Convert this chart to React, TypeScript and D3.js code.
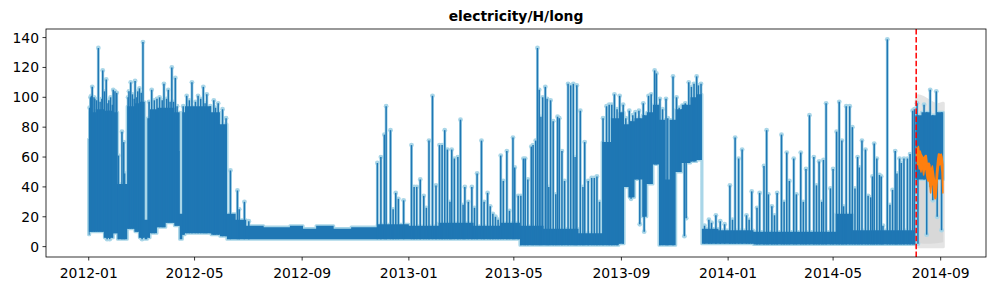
import React from "react";
import * as d3 from "d3";

// ---------------- data ----------------
const title = "electricity/H/long";
const seriesStart = "2012-01-01";
const seriesEnd = "2014-09-03T23:00";
const forecastStart = "2014-08-04";

// dense hourly band: [date (step start), low, high]
const envelope: [string, number, number][] = [
  ["2012-01-01", 8, 72], ["2012-01-02", 10, 90], ["2012-01-09", 10, 92], ["2012-01-19", 6, 91],
  ["2012-01-29", 9, 90], ["2012-02-03", 5, 42], ["2012-02-14", 12, 94], ["2012-02-23", 10, 96],
  ["2012-02-28", 6, 97], ["2012-03-05", 5, 18], ["2012-03-08", 6, 86], ["2012-03-11", 9, 92],
  ["2012-03-19", 13, 93], ["2012-03-29", 16, 93], ["2012-04-08", 14, 90], ["2012-04-14", 5, 22],
  ["2012-04-17", 8, 90], ["2012-04-20", 9, 94], ["2012-05-20", 8, 90], ["2012-05-30", 7, 82],
  ["2012-06-07", 5, 22], ["2012-06-17", 5, 18], ["2012-06-29", 5, 14], ["2012-07-19", 5, 13],
  ["2012-08-18", 5, 14], ["2012-09-02", 5, 12], ["2012-09-17", 5, 14], ["2012-10-07", 5, 12],
  ["2012-10-27", 5, 13], ["2012-11-26", 5, 15], ["2013-01-01", 5, 14], ["2013-02-04", 5, 16],
  ["2013-03-16", 5, 14], ["2013-04-15", 5, 16], ["2013-05-08", 1, 14], ["2013-06-04", 1, 12],
  ["2013-07-14", 1, 9], ["2013-08-10", 1, 70], ["2013-08-20", 1, 86], ["2013-08-29", 2, 90],
  ["2013-09-04", 40, 82], ["2013-09-10", 33, 84], ["2013-09-16", 45, 86], ["2013-09-25", 20, 88],
  ["2013-09-30", 42, 90], ["2013-10-07", 55, 95], ["2013-10-14", 1, 85], ["2013-10-21", 1, 45],
  ["2013-10-26", 1, 85], ["2013-11-02", 50, 92], ["2013-11-09", 56, 95], ["2013-11-19", 57, 100],
  ["2013-11-26", 58, 102], ["2013-12-02", 2, 12], ["2013-12-21", 2, 11], ["2014-01-30", 1.5, 10],
  ["2014-05-04", 1.5, 22], ["2014-05-24", 1.5, 11], ["2014-08-03", 45, 88], ["2014-08-10", 45, 90],
  ["2014-08-20", 40, 88], ["2014-08-28", 45, 90], ["2014-09-03T23:00", 45, 90],
];

// individual daily peaks: [date, value]
const peaks: [string, number][] = [
  ["2012-01-02", 93], ["2012-01-03", 100], ["2012-01-04", 101], ["2012-01-05", 107], ["2012-01-07", 100],
  ["2012-01-08", 99], ["2012-01-10", 98], ["2012-01-12", 133], ["2012-01-14", 97], ["2012-01-16", 99],
  ["2012-01-17", 118], ["2012-01-19", 104], ["2012-01-21", 112], ["2012-01-23", 96], ["2012-01-24", 98],
  ["2012-01-26", 100], ["2012-01-28", 95], ["2012-01-29", 105], ["2012-01-31", 104],
  ["2012-02-02", 103], ["2012-02-04", 61], ["2012-02-08", 77], ["2012-02-10", 70], ["2012-02-11", 49],
  ["2012-02-15", 100], ["2012-02-16", 104], ["2012-02-18", 110], ["2012-02-20", 102], ["2012-02-22", 99],
  ["2012-02-23", 111], ["2012-02-25", 100], ["2012-02-26", 104], ["2012-02-28", 106], ["2012-03-01", 103],
  ["2012-03-03", 137], ["2012-03-10", 97], ["2012-03-13", 105], ["2012-03-16", 98], ["2012-03-19", 99],
  ["2012-03-22", 100], ["2012-03-25", 98], ["2012-03-27", 109], ["2012-03-30", 99], ["2012-04-01", 105],
  ["2012-04-03", 97], ["2012-04-05", 120], ["2012-04-07", 97], ["2012-04-09", 113], ["2012-04-11", 94],
  ["2012-04-13", 64], ["2012-04-18", 94], ["2012-04-22", 101], ["2012-04-25", 98], ["2012-04-28", 110],
  ["2012-05-02", 97], ["2012-05-05", 101], ["2012-05-08", 99], ["2012-05-11", 107], ["2012-05-13", 96],
  ["2012-05-15", 102], ["2012-05-19", 94], ["2012-05-23", 98], ["2012-05-25", 93], ["2012-05-28", 96],
  ["2012-06-02", 92], ["2012-06-06", 86], ["2012-06-11", 51],
  ["2012-06-19", 37.6], ["2012-06-21", 25], ["2012-06-27", 30], ["2012-07-02", 17],
  ["2012-11-26", 56], ["2012-11-30", 60], ["2012-12-04", 75], ["2012-12-06", 94], ["2012-12-11", 78],
  ["2012-12-14", 25], ["2012-12-17", 36], ["2012-12-20", 32], ["2012-12-26", 31], ["2013-01-04", 68],
  ["2013-01-07", 40], ["2013-01-10", 40], ["2013-01-14", 45], ["2013-01-18", 34], ["2013-01-21", 26],
  ["2013-01-24", 71], ["2013-01-28", 101], ["2013-02-01", 41], ["2013-02-05", 68], ["2013-02-08", 68],
  ["2013-02-11", 78], ["2013-02-14", 65], ["2013-02-17", 30], ["2013-02-19", 65], ["2013-02-22", 59],
  ["2013-02-26", 60], ["2013-03-01", 85], ["2013-03-04", 28], ["2013-03-06", 40], ["2013-03-10", 30],
  ["2013-03-14", 40], ["2013-03-17", 26], ["2013-03-20", 49], ["2013-03-25", 71], ["2013-03-28", 30],
  ["2013-04-01", 36], ["2013-04-04", 27], ["2013-04-07", 22], ["2013-04-10", 20], ["2013-04-13", 18],
  ["2013-04-16", 61], ["2013-04-19", 44], ["2013-04-23", 64], ["2013-04-26", 24], ["2013-04-30", 73],
  ["2013-05-02", 53], ["2013-05-06", 34], ["2013-05-09", 34], ["2013-05-12", 59], ["2013-05-14", 59],
  ["2013-05-17", 45], ["2013-05-21", 67], ["2013-05-23", 68], ["2013-05-26", 71], ["2013-05-28", 133],
  ["2013-05-30", 105], ["2013-06-01", 87], ["2013-06-03", 100], ["2013-06-06", 107], ["2013-06-08", 99],
  ["2013-06-10", 40], ["2013-06-12", 98], ["2013-06-15", 84], ["2013-06-18", 35], ["2013-06-20", 87],
  ["2013-06-22", 86], ["2013-06-25", 64], ["2013-06-28", 44], ["2013-07-02", 109], ["2013-07-05", 108],
  ["2013-07-08", 109], ["2013-07-10", 60], ["2013-07-12", 108], ["2013-07-16", 91], ["2013-07-19", 40],
  ["2013-07-21", 70], ["2013-07-25", 44], ["2013-07-29", 46], ["2013-08-01", 46], ["2013-08-04", 47],
  ["2013-08-07", 30], ["2013-08-11", 86], ["2013-08-15", 94], ["2013-08-18", 95], ["2013-08-21", 95],
  ["2013-08-24", 102], ["2013-08-27", 92], ["2013-08-30", 101], ["2013-09-03", 95], ["2013-09-06", 86],
  ["2013-09-10", 91], ["2013-09-14", 88], ["2013-09-17", 90], ["2013-09-21", 91], ["2013-09-26", 96],
  ["2013-10-02", 101], ["2013-10-05", 102], ["2013-10-09", 118], ["2013-10-11", 116], ["2013-10-15", 99],
  ["2013-10-18", 92], ["2013-10-22", 99], ["2013-10-24", 86], ["2013-10-30", 114], ["2013-11-03", 100],
  ["2013-11-06", 93], ["2013-11-09", 92], ["2013-11-13", 96], ["2013-11-17", 110], ["2013-11-20", 107],
  ["2013-11-23", 109], ["2013-11-26", 114], ["2013-11-28", 108], ["2013-12-01", 109],
  ["2013-12-05", 14], ["2013-12-10", 18], ["2013-12-13", 16], ["2013-12-18", 21], ["2013-12-23", 17],
  ["2013-12-28", 15], ["2014-01-03", 41], ["2014-01-06", 18], ["2014-01-09", 73], ["2014-01-13", 59],
  ["2014-01-17", 65], ["2014-01-22", 21], ["2014-01-25", 18], ["2014-01-28", 37], ["2014-02-03", 26],
  ["2014-02-06", 36], ["2014-02-11", 54], ["2014-02-14", 78], ["2014-02-16", 35], ["2014-02-20", 27],
  ["2014-02-23", 21], ["2014-02-26", 36], ["2014-03-03", 75], ["2014-03-06", 30], ["2014-03-09", 63],
  ["2014-03-12", 44], ["2014-03-17", 59], ["2014-03-20", 35], ["2014-03-25", 63], ["2014-03-28", 30],
  ["2014-03-31", 52], ["2014-04-04", 88], ["2014-04-09", 60], ["2014-04-12", 41], ["2014-04-15", 57],
  ["2014-04-18", 30], ["2014-04-20", 58], ["2014-04-23", 96], ["2014-04-28", 39], ["2014-05-01", 52],
  ["2014-05-05", 77], ["2014-05-08", 97], ["2014-05-11", 71], ["2014-05-13", 27], ["2014-05-16", 94],
  ["2014-05-20", 94], ["2014-05-23", 80], ["2014-05-26", 39], ["2014-05-29", 60], ["2014-05-31", 53],
  ["2014-06-03", 71], ["2014-06-07", 65], ["2014-06-10", 34], ["2014-06-13", 33], ["2014-06-15", 47],
  ["2014-06-17", 69], ["2014-06-20", 59], ["2014-06-23", 48], ["2014-06-25", 47], ["2014-06-27", 14],
  ["2014-07-02", 138.8], ["2014-07-05", 28], ["2014-07-08", 38], ["2014-07-11", 64], ["2014-07-13", 49],
  ["2014-07-16", 59], ["2014-07-18", 56], ["2014-07-21", 59], ["2014-07-25", 59], ["2014-07-28", 62],
  ["2014-07-31", 91], ["2014-08-02", 92], ["2014-08-05", 96], ["2014-08-13", 95], ["2014-08-20", 105],
  ["2014-08-27", 104],
];

// downward drops below the dense band: [date, value]
const dips: [string, number][] = [
  ["2012-01-22", 5], ["2012-01-25", 5], ["2012-03-02", 5], ["2013-09-12", 32], ["2013-09-22", 15],
  ["2013-09-27", 10], ["2013-11-12", 7], ["2013-11-14", 19], ["2014-08-06", 2], ["2014-08-16", 8],
  ["2014-08-23", 31], ["2014-08-28", 20], ["2014-09-02", 11],
];

// forecast intervals: [date, low, high]
const intervalOuter: [string, number, number][] = [
  ["2014-08-04", 0, 98], ["2014-08-06", 0, 101], ["2014-08-12", 0, 100], ["2014-08-20", 0, 97],
  ["2014-08-28", 0, 95], ["2014-09-03T23:00", 0, 96],
];
const intervalInner: [string, number, number][] = [
  ["2014-08-04", 3, 86], ["2014-08-12", 2, 88], ["2014-08-20", 2, 85], ["2014-09-03T23:00", 3, 86],
];

// forecast median, daily range
const forecastDays = [
  "2014-08-04", "2014-08-05", "2014-08-06", "2014-08-07", "2014-08-08", "2014-08-09", "2014-08-10",
  "2014-08-11", "2014-08-12", "2014-08-13", "2014-08-14", "2014-08-15", "2014-08-16", "2014-08-17",
  "2014-08-18", "2014-08-19", "2014-08-20", "2014-08-21", "2014-08-22", "2014-08-23", "2014-08-24",
  "2014-08-25", "2014-08-26", "2014-08-27", "2014-08-28", "2014-08-29", "2014-08-30", "2014-08-31",
  "2014-09-01", "2014-09-02", "2014-09-03",
];
const forecastHigh = [66, 65, 67, 63, 64, 62, 61, 60, 58, 60, 61, 61, 56, 55, 56, 55, 50, 52, 54, 50, 46, 42, 44, 52, 58, 62, 62, 61, 62, 60, 55];
const forecastLow = [60, 55, 58, 52, 56, 50, 55, 52, 48, 52, 54, 50, 46, 44, 46, 42, 36, 42, 44, 40, 34, 32, 33, 40, 48, 54, 55, 55, 55, 50, 36];

const xTickLabels = ["2012-01", "2012-05", "2012-09", "2013-01", "2013-05", "2013-09", "2014-01", "2014-05", "2014-09"];
const yTickValues = [0, 20, 40, 60, 80, 100, 120, 140];

// ---------------- drawing ----------------
const WIDTH = 996;
const HEIGHT = 291;
const PLOT = { left: 46, right: 986, top: 29, bottom: 257 };
const BLUE = "#1f77b4";
const HALO = "#a9d6e8";
const ORANGE = "#ff7f0e";
const FONT = "DejaVu Sans";

const parse = (s: string): Date =>
  new Date(s.length <= 10 ? (s.length === 7 ? s + "-01T00:00:00Z" : s + "T00:00:00Z") : s + ":00Z");

export default function App() {
  const t0 = parse(seriesStart).getTime();
  const t1 = parse(seriesEnd).getTime();
  const span = t1 - t0;
  const x = d3.scaleUtc().domain([new Date(t0 - 0.05 * span), new Date(t1 + 0.05 * span)]).range([PLOT.left, PLOT.right]);

  const allVals = [
    ...envelope.flatMap((d) => [d[1], d[2]]),
    ...peaks.map((d) => d[1]),
    ...intervalOuter.flatMap((d) => [d[1], d[2]]),
  ];
  const vMin = d3.min(allVals) as number;
  const vMax = d3.max(allVals) as number;
  const r = vMax - vMin;
  const y = d3.scaleLinear().domain([vMin - 0.05 * r, vMax + 0.05 * r]).range([PLOT.bottom, PLOT.top]);

  const envT = envelope.map((d) => parse(d[0]).getTime());
  const envAt = (t: number) => envelope[Math.max(0, d3.bisectRight(envT, t) - 1)];

  const band = d3
    .area<[string, number, number]>()
    .x((d) => x(parse(d[0])))
    .y0((d) => y(d[1]))
    .y1((d) => y(d[2]))
    .curve(d3.curveStepAfter);
  const smoothBand = d3
    .area<[string, number, number]>()
    .x((d) => x(parse(d[0])))
    .y0((d) => y(d[1]))
    .y1((d) => y(d[2]))
    .curve(d3.curveMonotoneX);

  const envPath = band(envelope) || "";
  const outerPath = smoothBand(intervalOuter) || "";
  const innerPath = smoothBand(intervalInner) || "";

  const fc: [string, number, number][] = forecastDays.map((d, i) => [d + "T12:00", forecastLow[i], forecastHigh[i]]);
  const fcPath = d3
    .area<[string, number, number]>()
    .x((d) => x(parse(d[0])))
    .y0((d) => y(d[1]))
    .y1((d) => y(d[2]))
    .curve(d3.curveLinear)(fc) || "";

  const redX = x(parse(forecastStart));

  return (
    <svg
      width={WIDTH}
      height={HEIGHT}
      style={{ position: "absolute", left: 0, top: 0, background: "#fff" }}
      fontFamily={FONT}
    >
      <defs>
        <clipPath id="plotclip">
          <rect x={PLOT.left} y={PLOT.top} width={PLOT.right - PLOT.left} height={PLOT.bottom - PLOT.top} />
        </clipPath>
      </defs>
      <rect x={0} y={0} width={WIDTH} height={HEIGHT} fill="#fff" />
      <g clipPath="url(#plotclip)">
        {/* forecast intervals */}
        <path d={outerPath} fill="#e4e4e4" stroke="#e4e4e4" strokeWidth={3} strokeLinejoin="round" />
        <path d={innerPath} fill="#d8d8d8" />

        {/* halo (markers) */}
        <path d={envPath} fill={HALO} stroke={HALO} strokeWidth={3.2} strokeLinejoin="round" />
        {peaks.map(([d, v], i) => {
          const t = parse(d).getTime();
          const e = envAt(t);
          return (
            <g key={"ph" + i}>
              <line x1={x(t)} x2={x(t)} y1={y(e[1])} y2={y(v)} stroke={HALO} strokeWidth={3} />
              <circle cx={x(t)} cy={y(v)} r={2.4} fill={HALO} />
            </g>
          );
        })}
        {dips.map(([d, v], i) => {
          const t = parse(d).getTime();
          const e = envAt(t);
          return (
            <g key={"dh" + i}>
              <line x1={x(t)} x2={x(t)} y1={y(e[2])} y2={y(v)} stroke={HALO} strokeWidth={3} />
              <circle cx={x(t)} cy={y(v)} r={2.4} fill={HALO} />
            </g>
          );
        })}

        {/* series */}
        <path d={envPath} fill={BLUE} />
        {peaks.map(([d, v], i) => {
          const t = parse(d).getTime();
          const e = envAt(t);
          return <line key={"p" + i} x1={x(t)} x2={x(t)} y1={y(e[1])} y2={y(v)} stroke={BLUE} strokeWidth={1.5} />;
        })}
        {dips.map(([d, v], i) => {
          const t = parse(d).getTime();
          const e = envAt(t);
          return <line key={"d" + i} x1={x(t)} x2={x(t)} y1={y(e[2])} y2={y(v)} stroke={BLUE} strokeWidth={1.5} />;
        })}

        {/* forecast median */}
        <path d={fcPath} fill={ORANGE} stroke={ORANGE} strokeWidth={1.5} strokeLinejoin="round" />

        {/* forecast start */}
        <line x1={redX} x2={redX} y1={PLOT.top} y2={PLOT.bottom} stroke="red" strokeWidth={1.5} strokeDasharray="5.55 2.4" />
      </g>

      {/* axes */}
      <rect
        x={PLOT.left}
        y={PLOT.top}
        width={PLOT.right - PLOT.left}
        height={PLOT.bottom - PLOT.top}
        fill="none"
        stroke="#000"
        strokeWidth={0.8}
      />
      {xTickLabels.map((s) => {
        const px = x(parse(s));
        return (
          <g key={s}>
            <line x1={px} x2={px} y1={PLOT.bottom} y2={PLOT.bottom + 3.5} stroke="#000" strokeWidth={0.8} />
            <text x={px} y={PLOT.bottom + 20.5} fontSize={13.9} textAnchor="middle" fill="#000">
              {s}
            </text>
          </g>
        );
      })}
      {yTickValues.map((v) => {
        const py = y(v);
        return (
          <g key={v}>
            <line x1={PLOT.left - 3.5} x2={PLOT.left} y1={py} y2={py} stroke="#000" strokeWidth={0.8} />
            <text x={PLOT.left - 7} y={py + 5} fontSize={13.9} textAnchor="end" fill="#000">
              {v}
            </text>
          </g>
        );
      })}
      <text x={(PLOT.left + PLOT.right) / 2} y={20.7} fontSize={13.9} fontWeight="bold" textAnchor="middle" fill="#000">
        {title}
      </text>
    </svg>
  );
}
